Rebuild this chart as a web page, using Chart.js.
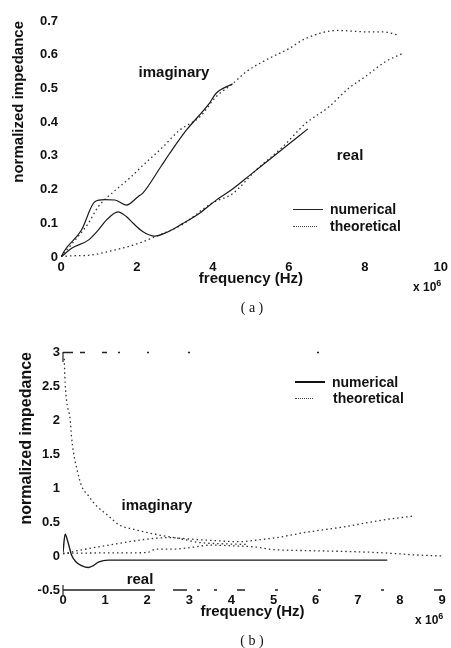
<!DOCTYPE html>
<html>
<head>
<meta charset="utf-8">
<script src="https://cdn.jsdelivr.net/npm/chart.js@4.4.1/dist/chart.umd.min.js"></script>
<style>
  html, body { margin:0; padding:0; background:#fff; }
  body { width:451px; height:648px; position:relative; overflow:hidden; font-family:"Liberation Sans", Arial, sans-serif; color:#111; }
  .wrap { position:absolute; left:0; width:451px; }
  .lbl { position:absolute; font-weight:bold; white-space:nowrap; transform:translate(-50%,-50%); }
  .leg { position:absolute; font-weight:bold; font-size:14px; white-space:nowrap; }
  .legrow { position:absolute; left:0; height:16px; display:flex; align-items:center; }
  .sw { display:inline-block; width:30px; margin-right:7px; }
  .cap { position:absolute; font-family:"Liberation Serif", serif; font-size:14px; transform:translate(-50%,-50%); white-space:pre; }
  .mult { position:absolute; font-weight:bold; font-size:12px; white-space:nowrap; }
</style>
</head>
<body>
<div class="wrap" style="top:0;height:320px;"><canvas id="ca" width="451" height="320"></canvas></div>
<div class="wrap" style="top:320px;height:328px;"><canvas id="cb" width="451" height="328"></canvas></div>

<!-- annotations (a) -->
<div class="lbl" style="left:174px;top:71px;font-size:15px;">imaginary</div>
<div class="lbl" style="left:350px;top:154px;font-size:15px;">real</div>
<div class="leg" style="left:293px;top:201px;">
  <div class="legrow" style="top:0;"><span class="sw" style="border-top:1.5px solid #222;"></span>numerical</div>
  <div class="legrow" style="top:17px;"><span class="sw" style="border-top:1.5px dotted #444;width:24px;margin-right:13px;"></span>theoretical</div>
</div>
<div class="mult" style="left:413px;top:278px;">x 10<sup style="font-size:9px;">6</sup></div>
<div class="cap" style="left:252px;top:308px;">( a )</div>

<!-- annotations (b) -->
<div class="lbl" style="left:157px;top:504px;font-size:15px;">imaginary</div>
<div class="lbl" style="left:140px;top:578px;font-size:15px;">real</div>
<div class="leg" style="left:295px;top:374px;">
  <div class="legrow" style="top:0;"><span class="sw" style="border-top:2px solid #111;"></span>numerical</div>
  <div class="legrow" style="top:16px;"><span class="sw" style="border-top:1.5px dotted #444;width:18px;margin-right:20px;"></span>theoretical</div>
</div>
<div class="mult" style="left:415px;top:611px;">x 10<sup style="font-size:9px;">6</sup></div>
<div class="cap" style="left:252px;top:641px;">( b )</div>

<script>
// ---------- data: panel (a) ----------
const aXTicks = [0, 2, 4, 6, 8, 10];
const aYTicks = [0, 0.1, 0.2, 0.3, 0.4, 0.5, 0.6, 0.7];

const aImagTheoX = [0, 0.19, 0.37, 0.72, 0.98, 1.4, 1.81, 2.12, 2.68, 3.12, 3.65, 4.08, 4.52, 4.87, 5.39, 6.0, 6.44, 7.3, 8.0, 8.45, 8.9];
const aImagTheoY = [0, 0.026, 0.05, 0.1, 0.149, 0.195, 0.234, 0.268, 0.326, 0.376, 0.415, 0.475, 0.514, 0.549, 0.584, 0.618, 0.648, 0.672, 0.668, 0.668, 0.658];

const aImagNumX = [0, 0.1, 0.54, 0.89, 1.15, 1.42, 1.72, 2.03, 2.16, 2.64, 2.86, 3.3, 3.9, 4.08, 4.52];
const aImagNumY = [0, 0.02, 0.08, 0.164, 0.17, 0.169, 0.154, 0.179, 0.19, 0.27, 0.307, 0.376, 0.455, 0.485, 0.514];

const aRealNumX = [0, 0.28, 0.72, 0.98, 1.2, 1.5, 1.72, 1.9, 2.16, 2.47, 2.82, 3.2, 3.65, 4.08, 4.5, 5.0, 5.5, 6.0, 6.5];
const aRealNumY = [0, 0.026, 0.05, 0.08, 0.11, 0.134, 0.12, 0.1, 0.075, 0.062, 0.075, 0.099, 0.13, 0.168, 0.2, 0.245, 0.29, 0.335, 0.38];

const aRealTheoX = [0, 0.18, 0.72, 1.24, 2.03, 2.47, 3.17, 3.96, 4.52, 5.13, 5.83, 6.44, 7.05, 7.57, 8.0, 8.54, 8.98];
const aRealTheoY = [0, 0.003, 0.005, 0.016, 0.04, 0.06, 0.095, 0.159, 0.188, 0.257, 0.326, 0.396, 0.445, 0.5, 0.534, 0.579, 0.603];

// ---------- data: panel (b) ----------
const bXTicks = [0, 1, 2, 3, 4, 5, 6, 7, 8, 9];
const bYTicks = [-0.5, 0, 0.5, 1, 1.5, 2, 2.5, 3];

const bImagTheoX = [0.03, 0.05, 0.09, 0.17, 0.2, 0.25, 0.33, 0.44, 0.6, 0.76, 1.08, 1.35, 1.63, 2.19, 2.82, 3.21, 3.77, 4.4];
const bImagTheoY = [2.9, 2.55, 2.26, 2.01, 1.77, 1.52, 1.28, 1.03, 0.89, 0.76, 0.59, 0.45, 0.4, 0.32, 0.25, 0.2, 0.18, 0.17];

const bRiseTheoX = [0, 0.36, 1.0, 1.47, 2.03, 2.5, 3.0, 3.5, 4.2, 4.6, 5.07, 5.79, 6.58, 7.05, 7.6, 8.36];
const bRiseTheoY = [0.03, 0.08, 0.15, 0.2, 0.25, 0.27, 0.25, 0.23, 0.21, 0.235, 0.27, 0.35, 0.42, 0.47, 0.53, 0.59];

const bMidTheoX = [0, 1, 2, 2.2, 2.6, 3.1, 3.5, 4.0, 4.6, 4.9, 5.7, 6.5, 7.5, 8.4, 9];
const bMidTheoY = [0.04, 0.045, 0.05, 0.1, 0.1, 0.13, 0.16, 0.15, 0.13, 0.1, 0.08, 0.07, 0.05, 0.015, 0];

const bRealNumX = [0, 0.05, 0.12, 0.2, 0.3, 0.44, 0.6, 0.72, 0.84, 1.08, 1.5, 3, 5, 7.7];
const bRealNumY = [0.05, 0.32, 0.2, 0.02, -0.08, -0.14, -0.17, -0.14, -0.09, -0.06, -0.06, -0.06, -0.06, -0.06];

// ---------- helpers ----------
const pts = (xs, ys) => xs.map((x, i) => ({ x: x, y: ys[i] }));
const numStyle = { borderColor: '#1a1a1a', borderWidth: 1.2, borderDash: [] };
const theoStyle = { borderColor: '#333', borderWidth: 1.3, borderDash: [1.5, 3] };
const ds = (label, xs, ys, style, extra) => Object.assign({
  label: label, data: pts(xs, ys), pointRadius: 0, fill: false,
  tension: 0.4, cubicInterpolationMode: 'monotone'
}, style, extra || {});

const tickFont = { family: '"Liberation Sans", Arial, sans-serif', size: 13, weight: 'bold' };
const titleFont = (s) => ({ family: '"Liberation Sans", Arial, sans-serif', size: s, weight: 'bold' });

// scanned-looking frame lines (top and bottom of the axes box) for panel (b)
const frameB = {
  id: 'frameB',
  afterDraw(chart) {
    const ctx = chart.ctx, a = chart.chartArea;
    ctx.save();
    ctx.strokeStyle = '#222';
    ctx.lineWidth = 1.3;
    ctx.setLineDash([10, 7, 5, 17, 5, 11, 2, 27, 2, 39, 2, 127, 2, 124]);
    ctx.beginPath(); ctx.moveTo(a.left, a.top + 0.5); ctx.lineTo(a.right, a.top + 0.5); ctx.stroke();
    ctx.lineWidth = 1.6;
    ctx.setLineDash([92, 18, 14, 10, 3, 14, 3, 20, 8, 30, 3, 40, 3, 60, 3, 50, 10, 40]);
    ctx.beginPath(); ctx.moveTo(a.left, a.bottom); ctx.lineTo(a.right, a.bottom); ctx.stroke();
    ctx.setLineDash([]);
    ctx.lineWidth = 1.2;
    ctx.beginPath(); ctx.moveTo(a.left, a.top); ctx.lineTo(a.left, a.top + 10); ctx.stroke();
    ctx.beginPath(); ctx.moveTo(a.left, a.bottom - 5); ctx.lineTo(a.left, a.bottom + 5); ctx.stroke();
    ctx.restore();
  }
};

function makeOptions(cfg) {
  return {
    responsive: false, animation: false, devicePixelRatio: 1,
    layout: { padding: { left: 0, right: 9, top: cfg.top, bottom: cfg.bottom } },
    plugins: { legend: { display: false }, tooltip: { enabled: false } },
    scales: {
      x: {
        type: 'linear', min: cfg.xMin, max: cfg.xMax,
        afterBuildTicks: s => { s.ticks = cfg.xTicks.map(v => ({ value: v })); },
        ticks: { font: tickFont, color: '#111', padding: 3, maxRotation: 0, autoSkip: false, callback: v => String(v) },
        grid: { display: false, drawTicks: false },
        border: { display: false },
        title: { display: true, text: 'frequency (Hz)', font: titleFont(15), color: '#111', padding: { top: 0, bottom: 0 } },
        afterFit: s => { s.height = 31; }
      },
      y: {
        type: 'linear', min: cfg.yMin, max: cfg.yMax,
        afterBuildTicks: s => { s.ticks = cfg.yTicks.map(v => ({ value: v })); },
        ticks: { font: tickFont, color: '#111', padding: 3, autoSkip: false, callback: v => String(v) },
        grid: { display: false, drawTicks: false },
        border: { display: false },
        title: { display: true, text: 'normalized impedance', align: 'end', font: titleFont(cfg.yTitleSize), color: '#111', padding: { top: cfg.yTitlePad, bottom: 0 } },
        afterFit: s => { s.width = cfg.left; }
      }
    }
  };
}

new Chart(document.getElementById('ca'), {
  type: 'line',
  data: {
    datasets: [
      ds('imaginary numerical', aImagNumX, aImagNumY, numStyle),
      ds('imaginary theoretical', aImagTheoX, aImagTheoY, theoStyle),
      ds('real numerical', aRealNumX, aRealNumY, numStyle),
      ds('real theoretical', aRealTheoX, aRealTheoY, theoStyle)
    ]
  },
  options: makeOptions({
    xMin: 0, xMax: 10, yMin: 0, yMax: 0.7, xTicks: aXTicks, yTicks: aYTicks,
    left: 61, top: 21, bottom: 32, yTitleSize: 15, yTitlePad: 10
  })
});

new Chart(document.getElementById('cb'), {
  type: 'line',
  data: {
    datasets: [
      ds('real numerical', bRealNumX, bRealNumY, numStyle, { borderWidth: 1.4 }),
      ds('imaginary theoretical', bImagTheoX, bImagTheoY, theoStyle),
      ds('theoretical (upper)', bRiseTheoX, bRiseTheoY, theoStyle),
      ds('theoretical (middle)', bMidTheoX, bMidTheoY, theoStyle)
    ]
  },
  options: makeOptions({
    xMin: 0, xMax: 9, yMin: -0.5, yMax: 3, xTicks: bXTicks, yTicks: bYTicks,
    left: 63, top: 32, bottom: 27, yTitleSize: 16, yTitlePad: 17
  }),
  plugins: [frameB]
});
</script>
</body>
</html>
